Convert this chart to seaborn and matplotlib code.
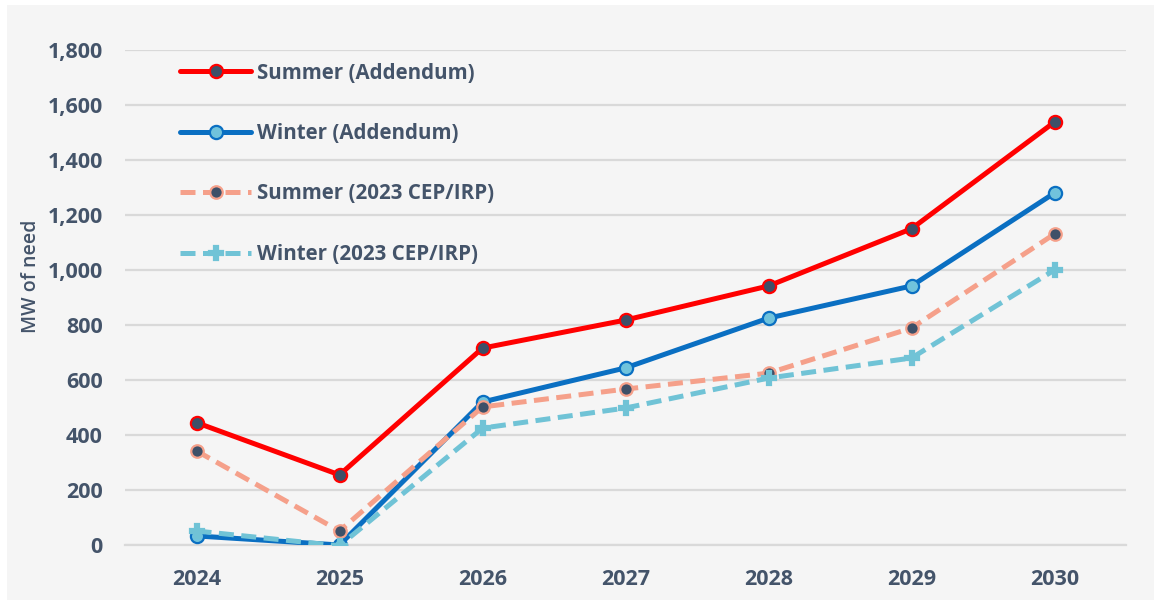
import matplotlib
matplotlib.use("Agg")
import matplotlib.pyplot as plt
import seaborn as sns
import pandas as pd
from matplotlib.patches import Rectangle
from matplotlib.ticker import FuncFormatter

years = [2024, 2025, 2026, 2027, 2028, 2029, 2030]
summer_add = [445, 255, 716, 818, 942, 1150, 1538]
winter_add = [33, 0, 520, 644, 825, 942, 1280]
summer_cep = [342, 51, 502, 567, 625, 789, 1131]
winter_cep = [51, -3, 425, 498, 607, 680, 1000]
labels = ["Summer (Addendum)", "Winter (Addendum)",
          "Summer (2023 CEP/IRP)", "Winter (2023 CEP/IRP)"]

sns.set_theme(style="white")
plt.rcParams['font.family'] = ['Open Sans', 'DejaVu Sans']
txt = "#44546a"

fig = plt.figure(figsize=(11.54, 6.0), dpi=100, facecolor="white")
fig.patches.append(Rectangle((7/1154, 0), 1147/1154, 595/600,
                             transform=fig.transFigure, facecolor="#f5f5f5",
                             edgecolor="none", zorder=-10))
ax = fig.add_axes([125/1154, 1-545/600, (1126-125)/1154, (545-50)/600])
ax.set_facecolor("#f5f5f5")
ax.set_zorder(1)

dash = (0, (3.0, 1.5))
styles = [
    dict(color="#ff0000", ls="-", marker="o", mfc="#3e5068", mec="#ff0000", ms=9.5),
    dict(color="#0a6fc2", ls="-", marker="o", mfc="#70c3dc", mec="#0a6fc2", ms=9.5),
    dict(color="#f5a08a", ls=dash, marker="o", mfc="#3e5068", mec="#f5a08a", ms=9),
    dict(color="#70c3d6", ls=dash, marker="P", mfc="#70c3d6", mec="#70c3d6", ms=10),
]
series = [summer_add, winter_add, summer_cep, winter_cep]
for vals, lab, st in zip(series, labels, styles):
    df = pd.DataFrame({"year": years, "mw": vals})
    sns.lineplot(data=df, x="year", y="mw", ax=ax, label=lab, color=st["color"],
                 linewidth=3.6, linestyle=st["ls"], marker=st["marker"],
                 markerfacecolor=st["mfc"], markeredgecolor=st["mec"],
                 markeredgewidth=1.6, markersize=st["ms"], zorder=3)

ax.set_xlim(2023.5, 2030.5)
ax.set_ylim(0, 1800)
ax.set_yticks(range(0, 1801, 200))
ax.set_xticks(years)
ax.yaxis.set_major_formatter(FuncFormatter(lambda v, p: f"{int(v):,}"))
ax.grid(axis="y", color="#d9d9d9", linewidth=1.6, zorder=0)
ax.set_axisbelow(True)
for s in ["top", "right", "left"]:
    ax.spines[s].set_visible(False)
ax.spines["bottom"].set_color("#d9d9d9")
ax.spines["bottom"].set_linewidth(1.6)
ax.tick_params(axis="both", length=0, labelsize=15.5, labelcolor=txt)
ax.tick_params(axis="y", pad=16)
ax.tick_params(axis="x", pad=17)
for t in ax.get_xticklabels() + ax.get_yticklabels():
    t.set_fontweight("bold")
ax.set_xlabel("")
ax.set_ylabel("MW of need", fontsize=14, color=txt, fontweight="semibold")
ax.yaxis.set_label_coords(-0.084, 0.543)

leg = ax.legend(loc="upper left", bbox_to_anchor=(0.036, 1.012), frameon=False,
                fontsize=14.8, handlelength=3.5, labelspacing=1.92, handletextpad=0.25)
for t in leg.get_texts():
    t.set_color(txt)
    t.set_fontweight("bold")

fig.savefig("out.png", dpi=100, facecolor="white")
